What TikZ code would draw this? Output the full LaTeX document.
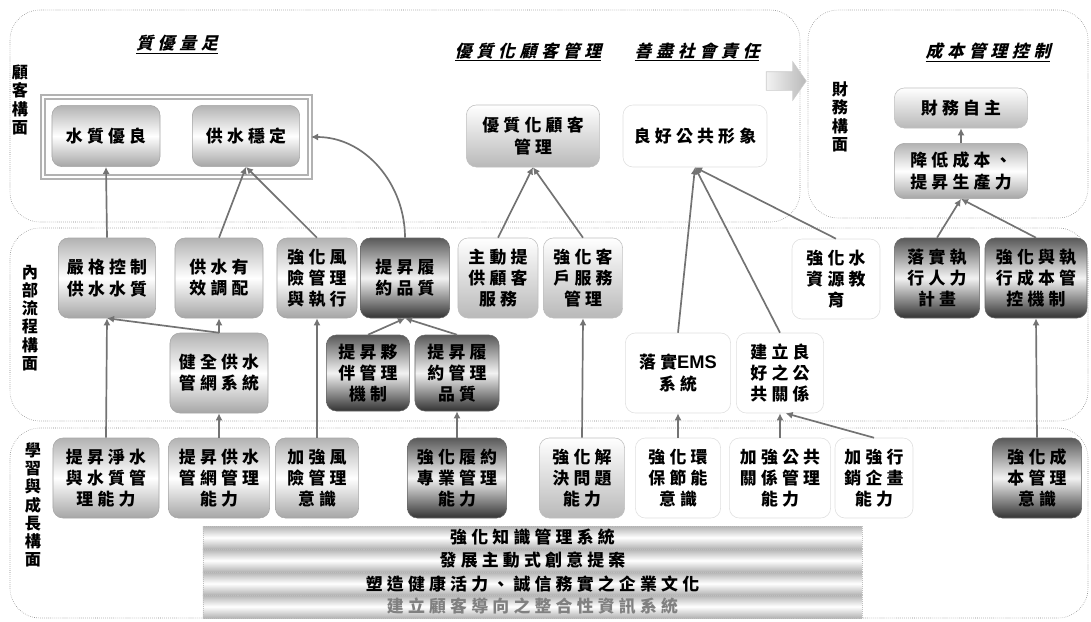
\documentclass[tikz,border=0pt]{standalone}
\usepackage{fontspec}
\setmainfont{Noto Sans CJK TC}
\newfontfamily\cjkspaced[LetterSpace=25]{Noto Sans CJK TC}
\newfontfamily\cjktitle[LetterSpace=28,FakeSlant=0.25]{Noto Sans CJK TC}
\newfontfamily\latinbold{Liberation Sans}
\usetikzlibrary{arrows.meta, positioning, shapes.arrows}
\tikzset{
  goalbox/.style={
    rectangle, rounded corners=0.25cm,
    draw=gray!70, align=center,
    font=\cjkspaced\bfseries\fontsize{12}{15}\selectfont,
    inner sep=2pt, minimum height=2cm
  },
  midshade/.style={top color=gray!60, bottom color=gray!70, middle color=white},
  darkshade/.style={top color=black!65, bottom color=black!80, middle color=gray!10, draw=black!60},
  lightshade/.style={top color=white, bottom color=gray!55, draw=gray!50},
  plainshade/.style={fill=white, draw=gray!25},
  linkarrow/.style={-{Latex[length=5pt,width=5pt]}, line width=1.2pt, black!55},
  panel/.style={draw=gray, densely dotted, rounded corners=0.75cm},
  sidelabel/.style={align=center, inner sep=0pt,
    font=\cjkspaced\bfseries\fontsize{11.5}{13}\selectfont},
  headline/.style={inner sep=1pt,
    font=\cjktitle\bfseries\fontsize{12}{15}\selectfont},
  layerbar/.style={
    rectangle, draw=gray!50, densely dotted, outer sep=0pt,
    top color=gray!60, bottom color=gray!60, middle color=white,
    minimum width=16.475cm, minimum height=0.575cm, inner sep=0pt,
    font=\cjkspaced\bfseries\fontsize{12}{15}\selectfont
  }
}
\begin{document}
\begin{tikzpicture}[x=0.025cm, y=-0.025cm]
    \useasboundingbox (0,0) rectangle (1091,621);
    % panels
    \draw[panel] (10,10) rectangle (800,222);
    \draw[panel] (808,10) rectangle (1088,218);
    \draw[panel] (10,228) rectangle (1088,421);
    \draw[panel] (10,428) rectangle (1088,618);
    \node[sidelabel] (custlbl) at (20,100) {顧\\客\\構\\面};
    \node[sidelabel] (finlbl) at (840,117) {財\\務\\構\\面};
    \node[sidelabel] (proclbl) at (30,318) {內\\部\\流\\程\\構\\面};
    \node[sidelabel] (learnlbl) at (33,505) {學\\習\\與\\成\\長\\構\\面};
    \node[headline] (h1) at (177,45) {\underline{質優量足}};
    \node[headline] (h2) at (528,52) {\underline{優質化顧客管理}};
    \node[headline] (h3) at (697,52) {\underline{善盡社會責任}};
    \node[headline] (h4) at (988,52) {\underline{成本管理控制}};
    \node[single arrow, draw=gray!40, left color=gray!10, right color=gray!55,
      minimum height=1cm, minimum width=0.95cm, inner sep=0.225cm,
      single arrow head extend=0.25cm, single arrow tip angle=110] (flowarrow) at (783,81) {};
    % customer
    \node[draw=gray!60, double=white, double distance=1pt, line width=1.4pt,
      minimum width=6.675cm, minimum height=2cm] (goodframe) at (176.5,137) {};
    \node[goalbox, midshade, minimum width=2.7cm, minimum height=1.53cm] (wq) at (106,136) {水質優良};
    \node[goalbox, midshade, minimum width=2.68cm, minimum height=1.53cm] (ws) at (246,136) {供水穩定};
    \node[goalbox, lightshade, minimum width=3.33cm, minimum height=1.55cm] (cm) at (533,136) {優質化顧客\\管理};
    \node[goalbox, plainshade, minimum width=3.6cm, minimum height=1.55cm] (pi) at (695,136) {良好公共形象};
    % finance
    \node[goalbox, lightshade, minimum width=3.33cm, minimum height=1cm] (fa) at (961,108) {財務自主};
    \node[goalbox, midshade, minimum width=3.33cm, minimum height=1.38cm] (cr) at (961,171) {降低成本、\\提昇生產力};
    % internal process
    \node[goalbox, midshade, minimum width=2.43cm] (sc) at (107,278) {嚴格控制\\供水水質};
    \node[goalbox, midshade, minimum width=2.2cm] (wd) at (219,278) {供水有\\效調配};
    \node[goalbox, midshade, minimum width=2cm] (rm) at (317,278) {強化風\\險管理\\與執行};
    \node[goalbox, darkshade, minimum width=2.23cm] (cq) at (405,278) {提昇履\\約品質};
    \node[goalbox, lightshade, minimum width=2cm] (ps) at (498,278) {主動提\\供顧客\\服務};
    \node[goalbox, lightshade, minimum width=1.98cm] (cs) at (583,278) {強化客\\戶服務\\管理};
    \node[goalbox, plainshade, minimum width=2.2cm] (we) at (836,279) {強化水\\資源教\\育};
    \node[goalbox, darkshade, minimum width=2.13cm] (hr) at (937,278) {落實執\\行人力\\計畫};
    \node[goalbox, darkshade, minimum width=2.55cm] (cc) at (1036,278) {強化與執\\行成本管\\控機制};
    \node[goalbox, midshade, minimum width=2.45cm] (pn) at (219,373) {健全供水\\管網系統};
    \node[goalbox, darkshade, minimum width=2.08cm, minimum height=1.9cm] (pm) at (368,373) {提昇夥\\伴管理\\機制};
    \node[goalbox, darkshade, minimum width=2.1cm, minimum height=1.9cm] (cmq) at (457,373) {提昇履\\約管理\\品質};
    \node[goalbox, plainshade, minimum width=2.63cm] (ems) at (678,373) {落實{\latinbold\bfseries\fontsize{13}{15}\selectfont EMS}\\系統};
    \node[goalbox, plainshade, minimum width=2.18cm] (pr) at (780,373) {建立良\\好之公\\共關係};
    % learning and growth
    \node[goalbox, midshade, minimum width=2.65cm] (lw) at (106,478) {提昇淨水\\與水質管\\理能力};
    \node[goalbox, midshade, minimum width=2.53cm] (ln) at (219,478) {提昇供水\\管網管理\\能力};
    \node[goalbox, midshade, minimum width=2.08cm] (lr) at (317,478) {加強風\\險管理\\意識};
    \node[goalbox, darkshade, minimum width=2.48cm] (lc) at (457,478) {強化履約\\專業管理\\能力};
    \node[goalbox, lightshade, minimum width=2.13cm] (lp) at (582,478) {強化解\\決問題\\能力};
    \node[goalbox, plainshade, minimum width=2.13cm] (le) at (678,478) {強化環\\保節能\\意識};
    \node[goalbox, plainshade, minimum width=2.53cm] (lpr) at (780,478) {加強公共\\關係管理\\能力};
    \node[goalbox, plainshade, minimum width=1.95cm] (lm) at (874,478) {加強行\\銷企畫\\能力};
    \node[goalbox, darkshade, minimum width=2.23cm] (lco) at (1037,478) {強化成\\本管理\\意識};
    \node[layerbar] (bar1) at (532.5,537.5) {強化知識管理系統};
    \node[layerbar, below=0pt of bar1] (bar2) {發展主動式創意提案};
    \node[layerbar, below=0pt of bar2] (bar3) {塑造健康活力、誠信務實之企業文化};
    \node[layerbar, below=0pt of bar3, text=gray] (bar4) {建立顧客導向之整合性資訊系統};
    % links
    \draw[linkarrow] (sc.north) -- (wq.south);
    \draw[linkarrow] (wd.north) -- (ws.south);
    \draw[linkarrow] (rm.north) -- (ws.south);
    \draw[linkarrow] (cq.north) to[out=90, in=0] (goodframe.east);
    \draw[linkarrow] (ps.north) -- (cm.south);
    \draw[linkarrow] (cs.north) -- (cm.south);
    \draw[linkarrow] (ems.north) -- (pi.south);
    \draw[linkarrow] (pr.north) -- (pi.south);
    \draw[linkarrow] (we.north) -- (pi.south);
    \draw[linkarrow] (cr.north) -- (fa.south);
    \draw[linkarrow] (hr.north) -- (cr.south);
    \draw[linkarrow] (cc.north) -- (cr.south);
    \draw[linkarrow] (pn.north) -- (sc.south);
    \draw[linkarrow] (pn.north) -- (wd.south);
    \draw[linkarrow] (pm.north) -- (cq.south);
    \draw[linkarrow] (cmq.north) -- (cq.south);
    \draw[linkarrow] (lw.north) -- (sc.south);
    \draw[linkarrow] (ln.north) -- (pn.south);
    \draw[linkarrow] (lr.north) -- (rm.south);
    \draw[linkarrow] (lc.north) -- (cmq.south);
    \draw[linkarrow] (lp.north) -- (cs.south);
    \draw[linkarrow] (le.north) -- (ems.south);
    \draw[linkarrow] (lpr.north) -- (pr.south);
    \draw[linkarrow] (lm.north) -- ([xshift=4pt]pr.south);
    \draw[linkarrow] (lco.north) -- (cc.south);
  \end{tikzpicture}
\end{document}
